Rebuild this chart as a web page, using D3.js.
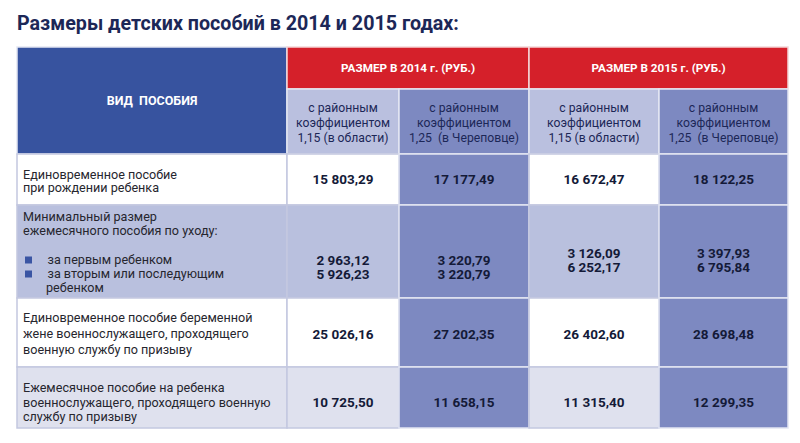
<!DOCTYPE html>
<html>
<head>
<meta charset="utf-8">
<script src="https://cdn.jsdelivr.net/npm/d3@7"></script>
<style>
  body { margin: 0; background: #fff; }
  svg text { font-family: Roboto, 'Noto Sans', sans-serif; }
</style>
</head>
<body>
<div id="root"></div>
<script>
// ---- data ----
const title = 'Размеры детских пособий в 2014 и 2015 годах:';
const kindHeader = 'ВИД  ПОСОБИЯ';
const years = ['РАЗМЕР В 2014 г. (РУБ.)', 'РАЗМЕР В 2015 г. (РУБ.)'];
const coefHeaders = [
  ['с районным', 'коэффициентом', '1,15 (в области)'],
  ['с районным', 'коэффициентом', '1,25  (в Череповце)'],
  ['с районным', 'коэффициентом', '1,15 (в области)'],
  ['с районным', 'коэффициентом', '1,25  (в Череповце)']
];
const rowLabels = [
  ['Единовременное пособие', 'при рождении ребенка'],
  ['Минимальный размер', 'ежемесячного пособия по уходу:'],
  ['Единовременное пособие беременной', 'жене военнослужащего, проходящего', 'военную службу по призыву'],
  ['Ежемесячное пособие на ребенка', 'военнослужащего, проходящего военную', 'службу по призыву']
];
const careItems = [['за первым ребенком'], ['за вторым или последующим', 'ребенком']];

const region2014 = [[15803.29], [2963.12, 5926.23], [25026.16], [10725.50]];
const city2014   = [[17177.49], [3220.79, 3220.79], [27202.35], [11658.15]];
const region2015 = [[16672.47], [3126.09, 6252.17], [26402.60], [11315.40]];
const city2015   = [[18122.25], [3397.93, 6795.84], [28698.48], [12299.35]];
const series = [region2014, city2014, region2015, city2015];

// ---- layout ----
const width = 800, height = 443;
const colEdges = [17, 287, 399, 529, 659, 788];
const headTop = 47, headMid = 89, headBottom = 154;
const rowEdges = [154, 205, 298, 367, 428];
// first text line centre and line spacing per row
const rowText = [{y: 174.5, lh: 13.5}, {y: 217, lh: 13.5}, {y: 318, lh: 16}, {y: 388, lh: 14.5}];
const careY = [260, 274];
const lightFill = ['#ffffff', '#b9c0de', '#ffffff', '#dfe1ee'];
const darkFill = '#7d89c1';
const navy = '#1c2757';

const ru = d3.formatLocale({decimal: ',', thousands: '\u00a0', grouping: [3], currency: ['', '']});
const fmt = ru.format(',.2f');

const svg = d3.select('#root').append('svg')
  .attr('width', width)
  .attr('height', height);

svg.append('text')
  .attr('x', 17).attr('y', 30)
  .attr('fill', navy)
  .style('font-size', '19.7px')
  .style('font-weight', 700)
  .text(title);

const cellStroke = '#e3e6f2';

// header: kind of benefit
svg.append('rect')
  .attr('x', colEdges[0]).attr('y', headTop)
  .attr('width', colEdges[1] - colEdges[0]).attr('height', headBottom - headTop)
  .attr('fill', '#37539f').attr('stroke', cellStroke).attr('stroke-width', 1.5);
svg.append('text')
  .attr('x', (colEdges[0] + colEdges[1]) / 2).attr('y', (headTop + headBottom) / 2)
  .attr('dy', '0.35em').attr('text-anchor', 'middle')
  .attr('fill', '#fff').style('font-size', '12.5px').style('font-weight', 700)
  .style('white-space', 'pre')
  .text(kindHeader);

// header: years
const yearG = svg.selectAll('g.year').data(years).enter().append('g').attr('class', 'year');
yearG.append('rect')
  .attr('x', (d, i) => colEdges[1 + i * 2])
  .attr('y', headTop)
  .attr('width', (d, i) => colEdges[3 + i * 2] - colEdges[1 + i * 2])
  .attr('height', headMid - headTop)
  .attr('fill', '#d5202a').attr('stroke', '#f3d6d8').attr('stroke-width', 1.5);
yearG.append('text')
  .attr('x', (d, i) => (colEdges[1 + i * 2] + colEdges[3 + i * 2]) / 2)
  .attr('y', (headTop + headMid) / 2)
  .attr('dy', '0.35em').attr('text-anchor', 'middle')
  .attr('fill', '#fff').style('font-size', '11.7px').style('font-weight', 700)
  .text(d => d);

// header: coefficients
const coefG = svg.selectAll('g.coef').data(coefHeaders).enter().append('g').attr('class', 'coef');
coefG.append('rect')
  .attr('x', (d, i) => colEdges[i + 1])
  .attr('y', headMid)
  .attr('width', (d, i) => colEdges[i + 2] - colEdges[i + 1])
  .attr('height', headBottom - headMid)
  .attr('fill', (d, i) => i % 2 ? darkFill : '#bac0df')
  .attr('stroke', cellStroke).attr('stroke-width', 1.5);
coefG.each(function (lines, i) {
  d3.select(this).selectAll('text').data(lines).enter().append('text')
    .attr('x', (colEdges[i + 1] + colEdges[i + 2]) / 2)
    .attr('y', (d, j) => 108 + j * 15)
    .attr('dy', '0.35em').attr('text-anchor', 'middle')
    .attr('fill', navy).style('font-size', '12.2px')
    .style('white-space', 'pre')
    .text(d => d);
});

// body rows
rowLabels.forEach((lines, r) => {
  const y0 = rowEdges[r], y1 = rowEdges[r + 1];
  const g = svg.append('g').attr('class', 'row');
  g.selectAll('rect').data(d3.range(5)).enter().append('rect')
    .attr('x', c => colEdges[c])
    .attr('y', y0)
    .attr('width', c => colEdges[c + 1] - colEdges[c])
    .attr('height', y1 - y0)
    .attr('fill', c => c === 2 || c === 4 ? darkFill : lightFill[r])
    .attr('stroke', c => c === 2 || c === 4 ? cellStroke : '#c3c8e0')
    .attr('stroke-width', 1.5);

  const t = rowText[r];
  g.selectAll('text.lbl').data(lines).enter().append('text')
    .attr('class', 'lbl')
    .attr('x', 23)
    .attr('y', (d, j) => t.y + j * t.lh)
    .attr('dy', '0.35em')
    .attr('fill', '#26262e').style('font-size', '12.6px')
    .text(d => d);

  // values, centred on the label block (row 2 aligned to bullet lines)
  series.forEach((s, c) => {
    const vals = s[r];
    let yc;
    if (r === 1) yc = c < 2 ? careY[0] : careY[0] - 7;
    else yc = t.y + (lines.length - 1) * t.lh / 2 - (lines.length === 2 ? 1.5 : 0);
    g.selectAll('text.v' + c).data(vals).enter().append('text')
      .attr('class', 'v' + c)
      .attr('x', (colEdges[c + 1] + colEdges[c + 2]) / 2)
      .attr('y', (d, j) => yc + j * 14)
      .attr('dy', '0.35em').attr('text-anchor', 'middle')
      .attr('fill', '#141a38').style('font-size', '13.5px').style('font-weight', 700)
      .text(d => fmt(d));
  });
});

// bullet items in row 2
careItems.forEach((lines, k) => {
  svg.append('rect')
    .attr('x', 25).attr('y', careY[k] - 3.5)
    .attr('width', 7).attr('height', 7)
    .attr('fill', '#3a55a3');
  svg.selectAll('text.care' + k).data(lines).enter().append('text')
    .attr('class', 'care' + k)
    .attr('x', (d, j) => j ? 46 : 47.5)
    .attr('y', (d, j) => careY[k] + j * 14)
    .attr('dy', '0.35em')
    .attr('fill', '#26262e').style('font-size', '12.6px')
    .text(d => d);
});
</script>
</body>
</html>
